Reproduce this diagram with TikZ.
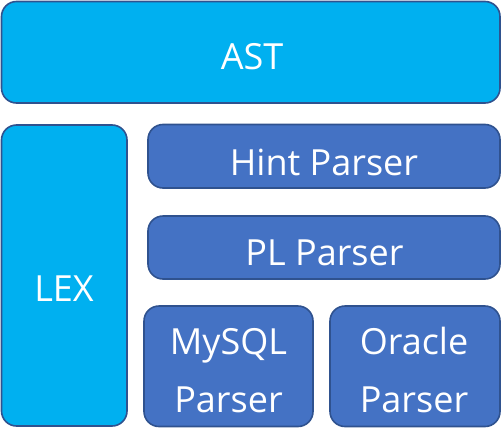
\documentclass[tikz,border=0pt]{standalone}
\usepackage{fontspec}
\setmainfont{Open Sans}
\begin{document}
\begin{tikzpicture}[x=1pt,y=-1pt,
  blk/.style={draw=bord, line width=1.6pt, rounded corners=15pt},
  cyanblk/.style={blk, fill=cyanf},
  blueblk/.style={blk, fill=bluef},
  lbl/.style={text=white, font=\fontsize{36}{58}\selectfont, anchor=base, inner sep=0pt, align=center}]
\definecolor{cyanf}{HTML}{00B0F0}
\definecolor{bluef}{HTML}{4472C4}
\definecolor{bord}{HTML}{2F528F}
\useasboundingbox (0,0) rectangle (502,428);
\draw[cyanblk] (1.5,1.5) rectangle (500,103);
\draw[cyanblk] (1.5,125) rectangle (127,426);
\draw[blueblk] (148,124.5) rectangle (500,188);
\draw[blueblk] (148,216) rectangle (500,279);
\draw[blueblk] (144,306) rectangle (313,426.5);
\draw[blueblk] (330,306) rectangle (500,426.5);
\node[lbl] (ast) at (252,69) {AST};
\node[lbl] (lex) at (64,301) {LEX};
\node[lbl] (hint) at (324,175) {Hint Parser};
\node[lbl] (pl) at (324.5,265) {PL Parser};
\node[lbl] (mysql1) at (228.5,354) {MySQL};
\node[lbl] (mysql2) at (228.5,412) {Parser};
\node[lbl] (ora1) at (414,354) {Oracle};
\node[lbl] (ora2) at (414,412) {Parser};
\end{tikzpicture}
\end{document}
